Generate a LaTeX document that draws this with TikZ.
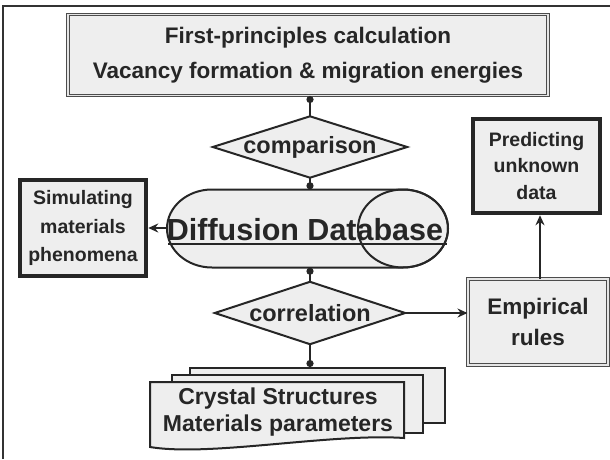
\documentclass[tikz,border=0pt]{standalone}
\usepackage{fontspec}
\setmainfont{Liberation Sans}
\usetikzlibrary{arrows.meta}
\begin{document}
\begin{tikzpicture}[x=1pt,y=1pt,
  conn/.style={draw=black!85, line width=2.6pt},
  arr/.style={conn, -{Stealth[length=10pt,width=9pt]}},
  dotstart/.style={conn, {Circle[length=7pt]}-},
  dotend/.style={conn, -{Circle[length=7pt]}},
  boxfill/.style={fill=gray!13},
  dblbox/.style={boxfill, draw=gray!60!black, line width=1pt, double=gray!20,
                 double distance=1.4pt, inner sep=0pt},
  thickbox/.style={boxfill, draw=black!85, line width=4.5pt, inner sep=0pt},
  shapeline/.style={draw=black!85, line width=2pt},
  frame/.style={draw=black!80, line width=2pt},
  big/.style={text=black!85, align=center, font=\bfseries\fontsize{22}{34}\selectfont},
  small/.style={text=black!85, align=center, font=\bfseries\fontsize{19}{27}\selectfont},
  place/.style={inner sep=0pt, draw=none}]
\useasboundingbox (0,0) rectangle (610,459);

% outer frame
\draw[frame] (3,0) -- (3,453) -- (611,453);

% first-principles box
\node[dblbox, minimum width=480pt, minimum height=81pt, big,
      font=\bfseries\fontsize{22.5}{35}\selectfont] (fp) at (308,404)
  {First-principles calculation\\Vacancy formation \& migration energies};

% comparison diamond
\node[place, minimum width=194pt, minimum height=61pt] (cmp) at (310,312) {};
\filldraw[boxfill, shapeline] (cmp.north) -- (cmp.east) -- (cmp.south) -- (cmp.west) -- cycle;
\node[big, font=\bfseries\fontsize{23.5}{30}\selectfont] at (cmp.center) {comparison};

% diffusion database cylinder
\node[place, minimum width=281pt, minimum height=78pt] (db) at (307.5,230.5) {};
\filldraw[boxfill, shapeline] (212,269.5) -- (403,269.5)
  arc[start angle=90, end angle=-90, x radius=45, y radius=39] -- (212,191.5)
  arc[start angle=270, end angle=90, x radius=45, y radius=39] -- cycle;
\draw[shapeline] (403,230.5) ellipse[x radius=45, y radius=39];
\node[text=black!85, font=\bfseries\fontsize{30.5}{36}\selectfont, anchor=base, inner sep=0pt]
  (dbt) at (305,219) {Diffusion Database};
\draw[black!85, line width=1.3pt] (168,215) -- (447,215);

% correlation diamond
\node[place, minimum width=190pt, minimum height=62pt] (crl) at (310,146) {};
\filldraw[boxfill, shapeline] (crl.north) -- (crl.east) -- (crl.south) -- (crl.west) -- cycle;
\node[big, font=\bfseries\fontsize{23.5}{30}\selectfont] at (crl.center) {correlation};

% side boxes
\node[thickbox, minimum width=126pt, minimum height=96pt, small,
      font=\bfseries\fontsize{19.5}{28.5}\selectfont] (sim) at (83,231)
  {Simulating\\materials\\phenomena};
\node[thickbox, minimum width=127pt, minimum height=94pt, small,
      font=\bfseries\fontsize{19.5}{26.5}\selectfont] (pred) at (536.5,293)
  {Predicting\\unknown\\data};
\node[dblbox, minimum width=140pt, minimum height=86pt, big,
      font=\bfseries\fontsize{22.5}{31}\selectfont] (emp) at (538,137)
  {Empirical\\rules};

% stacked documents
\node[boxfill, draw=black!85, line width=2pt, minimum width=255pt, minimum height=55pt,
      inner sep=0pt] (shb) at (317.5,63.5) {};
\node[boxfill, draw=black!85, line width=2pt, minimum width=251pt, minimum height=58pt,
      inner sep=0pt] (shm) at (297.5,55) {};
\node[place, minimum width=254pt, minimum height=65pt] (doc) at (277,44.5) {};
\filldraw[boxfill, shapeline] (150,77) -- (404,77) -- (404,21)
  .. controls (330,26) and (210,2) .. (150,12) -- cycle;
\node[big, font=\bfseries\fontsize{23}{27}\selectfont] at (278,46.5)
  {Crystal Structures\\Materials parameters};

% connectors
\draw[dotstart] (fp.south -| cmp.north) -- (cmp.north);
\draw[dotend] (cmp.south) -- (db.north -| cmp.south);
\draw[dotstart] (db.south -| crl.north) -- (crl.north);
\draw[dotend] (crl.south) -- (crl.south |- shb.north);
\draw[arr] (db.west |- sim.east) -- (sim.east);
\draw[arr] (crl.east) -- (crl.east -| emp.west);
\draw[arr] ([xshift=2pt]emp.north) -- ([xshift=2pt]emp.north |- pred.south);
\end{tikzpicture}
\end{document}
